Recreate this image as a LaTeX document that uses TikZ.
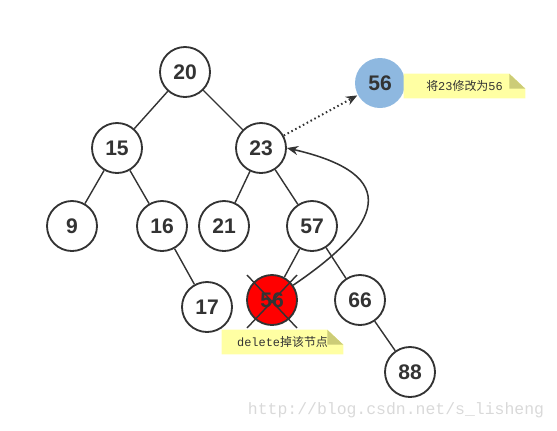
\documentclass[tikz,border=0pt]{standalone}
\usepackage{fontspec}
\setmainfont{Liberation Sans}
\setmonofont{Liberation Mono}
\newfontfamily\cjk{Noto Sans CJK SC}
\usetikzlibrary{calc, arrows.meta}
\definecolor{ink}{HTML}{333333}
\definecolor{newblue}{HTML}{8EB8E0}
\definecolor{noteyellow}{HTML}{FFFFA3}
\definecolor{notefold}{HTML}{CCCC77}
\definecolor{markgray}{HTML}{D9D9D9}
\begin{document}
\begin{tikzpicture}[
    x=0.025cm, y=-0.025cm,
    key/.style={draw=ink, circle, fill=white, line width=1.3pt, minimum size=1.25cm,
                inner sep=0pt, text=ink, font=\fontsize{15}{15}\selectfont\bfseries},
    edge/.style={ink, line width=1pt},
    arr/.style={->, >={Stealth[length=8pt, width=6.5pt]}, ink, line width=1.1pt},
    note/.style={minimum width=3.025cm, minimum height=0.6cm, inner sep=0pt,
                 text=ink, font=\fontsize{8.5}{8.5}\selectfont}
]
\useasboundingbox (0,0) rectangle (557,430);

\node[key] (n20) at (185, 72)  {20};
\node[key] (n15) at (117,148)  {15};
\node[key] (n23) at (261,148)  {23};
\node[key] (n9)  at ( 72,226)  {9};
\node[key] (n16) at (162,226)  {16};
\node[key] (n21) at (224,226)  {21};
\node[key] (n57) at (312,226)  {57};
\node[key] (n17) at (207,307)  {17};
\node[key, fill=red] (del) at (272,300) {56};
\node[key] (n66) at (360,300)  {66};
\node[key] (n88) at (410,372)  {88};
\node[key, draw=none, fill=newblue] (upd) at (380, 83) {56};

\draw[edge] (n20) -- (n15);
\draw[edge] (n20) -- (n23);
\draw[edge] (n15) -- (n9);
\draw[edge] (n15) -- (n16);
\draw[edge] (n23) -- (n21);
\draw[edge] (n23) -- (n57);
\draw[edge] (n16) -- (n17);
\draw[edge] (n57) -- (del);
\draw[edge] (n57) -- (n66);
\draw[edge] (n66) -- (n88);

\draw[edge] ($(del)+(-25,-25)$) -- ($(del)+(25,28)$);
\draw[edge] ($(del)+(25,-25)$) -- ($(del)+(-25,28)$);

\draw[arr, dotted, line width=1.4pt] (n23) -- (upd);
\draw[arr] (del.35) .. controls (382,225) and (404,175) .. (n23.east);

\node[note] (updnote) at (464.5, 86) {};
\node[note] (delnote) at (282.5,342) {};
\foreach \n in {updnote, delnote} {
  \fill[noteyellow] (\n.south west) -- (\n.north west) -- ($(\n.north east)+(-16,0)$)
      -- ($(\n.north east)+(0,15)$) -- (\n.south east) -- cycle;
  \fill[notefold] ($(\n.north east)+(-16,0)$) -- ($(\n.north east)+(-16,15)$)
      -- ($(\n.north east)+(0,15)$) -- cycle;
}
\node[note] at (updnote) {{\cjk 将}{\ttfamily 23}{\cjk 修改为}{\ttfamily 56}};
\node[note] at (delnote) {{\ttfamily delete}{\cjk 掉该节点}};

\node[text=markgray, font=\ttfamily\fontsize{11.7}{11.7}\selectfont] (mark) at (396,410)
    {http://blog.csdn.net/s\_lisheng};
\end{tikzpicture}
\end{document}
